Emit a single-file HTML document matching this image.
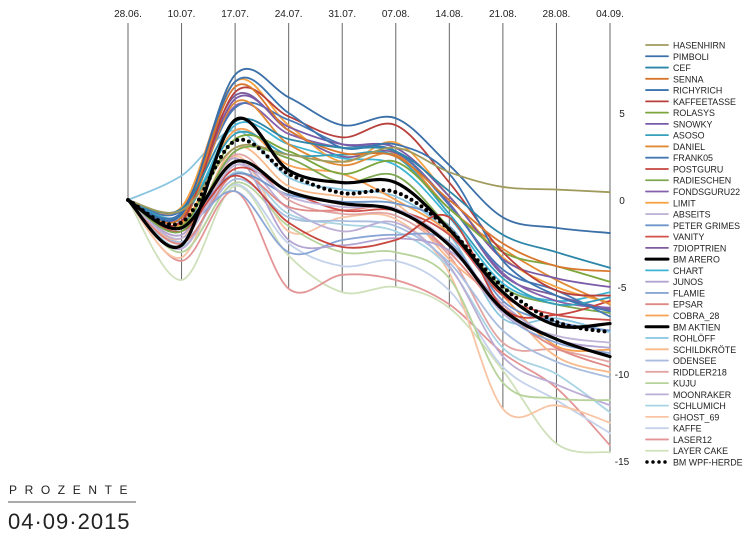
<!DOCTYPE html>
<html><head><meta charset="utf-8">
<style>
body{margin:0;background:#fff;width:750px;height:553px;overflow:hidden;font-family:"Liberation Sans",sans-serif;}
svg text{font-family:"Liberation Sans",sans-serif;}
</style></head>
<body>
<svg id="chart" width="750" height="553" viewBox="0 0 750 553" xmlns="http://www.w3.org/2000/svg">
<g id="grid"></g>
<g id="xlabels"></g>
<g id="ylabels"></g>
<g id="lines"></g>
<g id="legend"></g>
<text x="9" y="494" font-size="12" letter-spacing="7.6" fill="#222">PROZENTE</text>
<line x1="8" y1="502" x2="136" y2="502" stroke="#555" stroke-width="1"/>
<text x="8" y="529" font-size="22" letter-spacing="1" fill="#222">04·09·2015</text>
</svg>
<script>
const dates = ["28.06.","10.07.","17.07.","24.07.","31.07.","07.08.","14.08.","21.08.","28.08.","04.09."];
const yTicks = [5,0,-5,-10,-15];
const names = ["HASENHIRN","PIMBOLI","CEF","SENNA","RICHYRICH","KAFFEETASSE","ROLASYS","SNOWKY","ASOSO","DANIEL","FRANK05","POSTGURU","RADIESCHEN","FONDSGURU22","LIMIT","ABSEITS","PETER GRIMES","VANITY","7DIOPTRIEN","BM ARERO","CHART","JUNOS","FLAMIE","EPSAR","COBRA_28","BM AKTIEN","ROHLÖFF","SCHILDKRÖTE","ODENSEE","RIDDLER218","KUJU","MOONRAKER","SCHLUMICH","GHOST_69","KAFFE","LASER12","LAYER CAKE","BM WPF-HERDE"];
const colors = ["#a09a5c","#3a6fa8","#2c86a8","#d9772e","#3c74b0","#b8403c","#7aa63c","#7a5aa6","#35a0bb","#e08a35","#4878b5","#c8463f","#7da850","#8660ad","#f7a13f","#c0b4d8","#6f97cc","#d0504a","#7d5c9e","#000000","#3fb5d6","#b3a5d2","#8aa6d6","#df8884","#f7a154","#000000","#8ac5e0","#f9b98a","#a9bddf","#e2a4a2","#b7d39c","#bdaed6","#a8d4e3","#f8c4a4","#c3d2ea","#e39596","#cfe0bb","#000000"];
const values = [
[0,-0.6,3.0,2.6,2.2,3.0,1.6,0.75,0.6,0.45],
[0,-0.8,7.2,5.9,4.3,4.7,2.0,-1.0,-1.6,-1.9],
[0,-0.5,4.5,3.5,3.0,2.8,0.5,-2.0,-3.0,-3.9],
[0,-1.0,6.5,4.0,2.7,2.5,0.0,-2.5,-3.8,-4.1],
[0,-0.7,6.8,5.0,3.0,3.2,1.5,-3.5,-5.5,-6.4],
[0,-1.2,6.2,4.8,3.6,4.3,1.0,-3.0,-5.2,-5.5],
[0,-1.5,3.5,2.8,1.5,2.2,-0.5,-3.0,-3.8,-4.7],
[0,-1.0,5.8,4.2,3.2,3.0,0.2,-3.4,-4.5,-5.0],
[0,-0.9,3.8,2.6,2.6,2.5,-0.8,-4.5,-6.0,-5.6],
[0,-1.3,5.6,3.2,2.0,2.6,-0.5,-2.8,-4.6,-6.0],
[0,-0.6,5.3,4.6,3.2,2.8,-0.3,-4.0,-5.2,-6.7],
[0,-1.6,1.4,-1.3,-2.7,-2.3,-1.0,-6.2,-6.6,-5.8],
[0,-1.8,2.8,2.4,1.0,1.4,-1.6,-5.0,-6.0,-6.5],
[0,-0.8,5.4,3.8,3.0,2.8,-0.2,-4.2,-5.8,-6.2],
[0,-0.4,6.8,4.3,2.2,3.3,0.2,-3.3,-5.0,-5.9],
[0,-2.2,2.0,0.2,-0.4,-0.5,-2.5,-6.5,-7.8,-8.2],
[0,-1.2,1.5,0.3,-0.1,-0.2,-1.5,-5.8,-7.0,-7.5],
[0,-1.8,1.8,0.5,-0.6,-0.6,-2.0,-5.5,-6.6,-6.9],
[0,-0.5,6.0,4.0,2.5,2.7,-0.2,-4.3,-5.5,-6.3],
[0,-2.6,4.6,1.7,1.0,1.0,-1.7,-5.3,-7.2,-7.1],
[0,-1.0,4.3,3.2,2.4,2.0,-1.0,-4.8,-5.8,-5.3],
[0,-2.0,2.4,-2.3,-2.6,-2.2,-2.9,-6.0,-8.0,-8.5],
[0,-1.6,0.5,-3.0,-2.3,-2.0,-2.4,-6.5,-8.2,-8.8],
[0,-2.5,1.5,-0.4,-0.6,-0.5,-3.0,-6.4,-8.5,-9.6],
[0,-1.4,4.0,2.0,1.5,0.0,-1.9,-5.5,-8.4,-8.6],
[0,-1.6,2.2,0.5,-0.2,-0.6,-2.6,-6.3,-8.0,-9.0],
[0,1.4,4.0,1.3,0.6,0.2,-2.0,-6.8,-6.8,-7.6],
[0,-2.2,3.0,0.8,0.2,-0.2,-3.4,-6.0,-9.0,-9.9],
[0,-2.4,1.2,-1.0,-1.2,-1.5,-3.6,-7.5,-9.3,-10.2],
[0,-2.0,2.6,0.0,-0.8,-0.9,-3.2,-8.2,-8.6,-9.3],
[0,-3.0,1.0,-1.5,-3.0,-3.0,-4.5,-10.5,-11.4,-11.5],
[0,-2.8,2.0,-0.5,-1.8,-1.3,-3.8,-9.0,-10.6,-11.8],
[0,-2.7,1.6,-0.8,-1.4,-1.8,-3.9,-8.5,-10.0,-12.2],
[0,-3.3,2.5,-1.8,-1.0,-1.1,-4.2,-12.0,-11.8,-12.8],
[0,-3.0,0.9,-2.5,-3.8,-3.5,-5.2,-9.6,-11.5,-13.4],
[0,-3.5,0.5,-5.1,-4.3,-4.6,-6.0,-8.8,-10.8,-14.1],
[0,-4.6,0.8,-3.2,-5.3,-5.0,-6.2,-9.8,-14.0,-14.5],
[0,-1.3,3.4,1.5,0.4,0.45,-1.7,-5.0,-7.0,-7.6]
];

const NS="http://www.w3.org/2000/svg";
const x0=128, x1=610, yZero=200, pxPerUnit=17.4;
const xScale = i => x0 + (x1-x0)*i/(dates.length-1);
const yScale = v => yZero - v*pxPerUnit;
function mk(tag, attrs, parent){const e=document.createElementNS(NS,tag);for(const k in attrs)e.setAttribute(k,attrs[k]);parent.appendChild(e);return e;}

const grid=document.getElementById('grid'), xl=document.getElementById('xlabels'), yl=document.getElementById('ylabels');
dates.forEach((d,i)=>{
  let mn=Infinity; values.forEach(s=>{if(s[i]<mn)mn=s[i];});
  const ln=mk('line',{x1:xScale(i),x2:xScale(i),y1:23,y2:yScale(mn),stroke:'#666','stroke-width':1},grid);
  
  
  const t=mk('text',{x:xScale(i),y:17,'font-size':10,'text-anchor':'middle',fill:'#222'},xl);
  t.textContent=d;
  
  
});
yTicks.forEach(v=>{
  const t=mk('text',{x:622,y:yScale(v)+4,'font-size':10,'text-anchor':'middle',fill:'#222'},yl);
  t.textContent=v;
  
  
});

function pathFor(s){
  const p=s.map((v,i)=>[xScale(i),yScale(v)]);
  let d='M'+p[0][0]+','+p[0][1];
  for(let i=0;i<p.length-1;i++){
    const a=p[Math.max(0,i-1)],b=p[i],c=p[i+1],e=p[Math.min(p.length-1,i+2)];
    const t=0.5/3;
    const c1=[b[0]+(c[0]-a[0])*t,b[1]+(c[1]-a[1])*t];
    const c2=[c[0]-(e[0]-b[0])*t,c[1]-(e[1]-b[1])*t];
    d+=' C'+c1[0]+','+c1[1]+' '+c2[0]+','+c2[1]+' '+c[0]+','+c[1];
  }
  return d;
}
const lines=document.getElementById('lines'), lg=document.getElementById('legend');
const order=[...names.keys()].filter(i=>colors[i]!=='#000000').reverse().concat([25,19,37]);
order.forEach(i=>{
  const isBM = colors[i]==='#000000';
  const attrs={d:pathFor(values[i]),fill:'none',stroke:colors[i],'stroke-width':isBM?3.2:1.8,'stroke-linecap':'round'};
  if(i===37){attrs['stroke-dasharray']='0 6';attrs['stroke-width']=4;}
  const p=mk('path',attrs,lines);
  
  
});
names.forEach((n,i)=>{
  const y=45+i*11.27;
  const g=mk('g',{},lg);
  
  
  const la={x1:646,x2:668,y1:y,y2:y,stroke:colors[i],'stroke-width':colors[i]==='#000000'?3:1.8,'stroke-linecap':'round'};
  if(i===37){la['stroke-dasharray']='0 6';la['stroke-width']=3.5;la.x1=647;}
  mk('line',la,g);
  const t=mk('text',{x:673,y:y+3.5,'font-size':8.9,fill:'#222'},g);
  t.textContent=n;
});
</script>
</body></html>
